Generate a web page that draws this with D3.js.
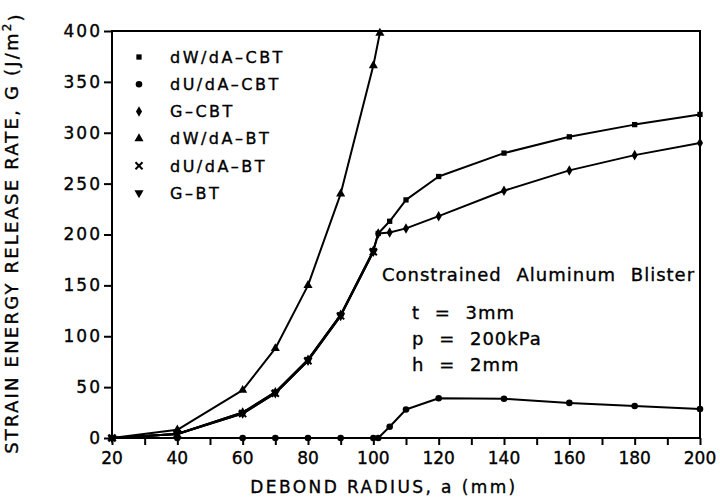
<!DOCTYPE html>
<html lang="en">
<head>
  <meta charset="UTF-8">
  <title>Strain energy release rate</title>
  <script src="https://d3js.org/d3.v7.min.js"></script>
  <style>
    html, body { margin: 0; padding: 0; background: #fff; }
    svg { display: block; }
    text { font-family: "DejaVu Sans", Arial, sans-serif; fill: #000; stroke: #000; stroke-width: 0.35px; }
    .curve { fill: none; stroke: #000; stroke-width: 2px; stroke-linejoin: round; }
  </style>
</head>
<body>
  <svg id="chart" width="720" height="501"></svg>
  <script>
    // Beam theory (BT) curves
    const xBT = [20, 40, 60, 70, 80, 90, 100, 102];
    const dWdA_BT = [0, 8, 47, 88, 150, 240, 366, 398];
    const xBT2 = [20, 40, 60, 70, 80, 90, 100];
    const dUdA_BT = [0, 4, 24, 44, 76, 120, 183];
    const G_BT = [0, 4, 24, 44, 76, 120, 183];

    // Constrained beam theory (CBT) curves
    const xCBT = [20, 40, 60, 70, 80, 90, 100, 101.5, 105, 110, 120, 140, 160, 180, 200];
    const dWdA_CBT = [0, 4, 25, 45, 77, 121, 184, 201, 213, 234, 257, 280, 296, 308, 318];
    const dUdA_CBT = [0, 0, 0, 0, 0, 0, 0, 0, 11, 28, 39, 38.5, 34.5, 31.5, 28.5];
    const G_CBT = [0, 4, 25, 45, 77, 121, 184, 201, 202, 206, 218, 243, 263, 278, 290];

    const xTicks = [20, 40, 60, 80, 100, 120, 140, 160, 180, 200];
    const yTicks = [0, 50, 100, 150, 200, 250, 300, 350, 400];
    const legendLabels = ["dW/dA\u2013CBT", "dU/dA\u2013CBT", "G\u2013CBT", "dW/dA\u2013BT", "dU/dA\u2013BT", "G\u2013BT"];
    const notes = ["t = 3mm", "p = 200kPa", "h = 2mm"];

    const series = [
      { name: legendLabels[0], x: xCBT, y: dWdA_CBT, symbol: d3.symbolSquare, size: 28, rot: 0 },
      { name: legendLabels[1], x: xCBT, y: dUdA_CBT, symbol: d3.symbolCircle, size: 34, rot: 0 },
      { name: legendLabels[2], x: xCBT, y: G_CBT, symbol: d3.symbolDiamond, size: 32, rot: 0 },
      { name: legendLabels[3], x: xBT, y: dWdA_BT, symbol: d3.symbolTriangle, size: 36, rot: 0 },
      { name: legendLabels[4], x: xBT2, y: dUdA_BT, symbol: d3.symbolTimes, size: 34, rot: 0 },
      { name: legendLabels[5], x: xBT2, y: G_BT, symbol: d3.symbolTriangle, size: 36, rot: 180 }
    ];

    const margin = { top: 31, right: 20, bottom: 63, left: 112 };
    const width = 720, height = 501;
    const svg = d3.select("#chart");

    const x = d3.scaleLinear().domain([20, 200]).range([margin.left, width - margin.right]);
    const y = d3.scaleLinear().domain([0, 400]).range([height - margin.bottom, margin.top]);

    svg.append("defs").append("clipPath").attr("id", "plot-clip")
      .append("rect")
      .attr("x", x(20)).attr("y", y(400))
      .attr("width", x(200) - x(20)).attr("height", y(0) - y(400));

    // Axes with outward ticks
    const xAxis = svg.append("g")
      .attr("transform", `translate(0,${y(0)})`)
      .call(d3.axisBottom(x).ticks(18).tickSize(7).tickFormat(""));
    xAxis.select(".domain").remove();
    xAxis.selectAll("line").attr("stroke-width", 2);

    svg.append("g")
      .selectAll("text").data(xTicks).enter().append("text")
      .attr("x", d => x(d)).attr("y", y(0) + 26)
      .attr("text-anchor", "middle")
      .attr("font-size", 17)
      .text(d => d);

    const yAxis = svg.append("g")
      .attr("transform", `translate(${x(20)},0)`)
      .call(d3.axisLeft(y).tickValues(yTicks).tickSize(8).tickPadding(2));
    yAxis.select(".domain").remove();
    yAxis.selectAll("line").attr("stroke-width", 2);
    yAxis.selectAll("text")
      .attr("font-size", 17)
      .attr("letter-spacing", 2)
      .attr("font-family", "DejaVu Sans, Arial, sans-serif")
      .attr("fill", "#000");

    // Frame
    svg.append("rect")
      .attr("x", x(20)).attr("y", y(400))
      .attr("width", x(200) - x(20)).attr("height", y(0) - y(400))
      .attr("fill", "none").attr("stroke", "#000").attr("stroke-width", 2);

    // Curves
    const line = d3.line().x(d => x(d[0])).y(d => y(d[1]));
    const plot = svg.append("g").attr("clip-path", "url(#plot-clip)");

    series.forEach(s => {
      const pts = s.x.map((v, i) => [v, s.y[i]]);
      plot.append("path").attr("class", "curve").attr("d", line(pts));
    });

    function drawSymbol(g, s, px, py) {
      const p = g.append("path")
        .attr("d", d3.symbol().type(s.symbol).size(s.size)())
        .attr("transform", `translate(${px},${py}) rotate(${s.rot})`);
      if (s.symbol === d3.symbolTimes) {
        p.attr("fill", "none").attr("stroke", "#000").attr("stroke-width", 2);
      } else {
        p.attr("fill", "#000");
      }
    }

    series.forEach(s => {
      s.x.forEach((v, i) => {
        if (s.y[i] <= 400) drawSymbol(svg, s, x(v), y(s.y[i]));
      });
    });

    // Legend
    const legend = svg.append("g");
    series.forEach((s, i) => {
      const ly = 57 + i * 27.2;
      drawSymbol(legend, s, 139, ly);
      legend.append("text")
        .attr("x", 170).attr("y", ly)
        .attr("dy", "0.36em")
        .attr("font-size", 16)
        .attr("letter-spacing", 2.5)
        .text(s.name);
    });

    // Annotation
    svg.append("text")
      .attr("x", 382).attr("y", 275).attr("dy", "0.36em")
      .attr("font-size", 18).attr("letter-spacing", 1).attr("word-spacing", 8)
      .text("Constrained Aluminum Blister");
    notes.forEach((t, i) => {
      svg.append("text")
        .attr("x", 412).attr("y", 313 + i * 26).attr("dy", "0.36em")
        .attr("font-size", 18).attr("letter-spacing", 1).attr("word-spacing", 8)
        .text(t);
    });

    // Axis titles
    svg.append("text")
      .attr("x", 384).attr("y", 487).attr("dy", "0.36em")
      .attr("text-anchor", "middle")
      .attr("font-size", 17).attr("letter-spacing", 2.4)
      .text("DEBOND RADIUS, a (mm)");

    const yTitle = svg.append("text")
      .attr("transform", "translate(12,233) rotate(-90)")
      .attr("text-anchor", "middle")
      .attr("dy", "0.36em")
      .attr("font-size", 18).attr("letter-spacing", 2.2);
    yTitle.append("tspan").text("STRAIN ENERGY RELEASE RATE, G (J/m");
    yTitle.append("tspan").attr("dy", "-0.6em").attr("font-size", 12).text("2");
    yTitle.append("tspan").attr("dy", "0.6em").text(")");
  </script>
</body>
</html>
